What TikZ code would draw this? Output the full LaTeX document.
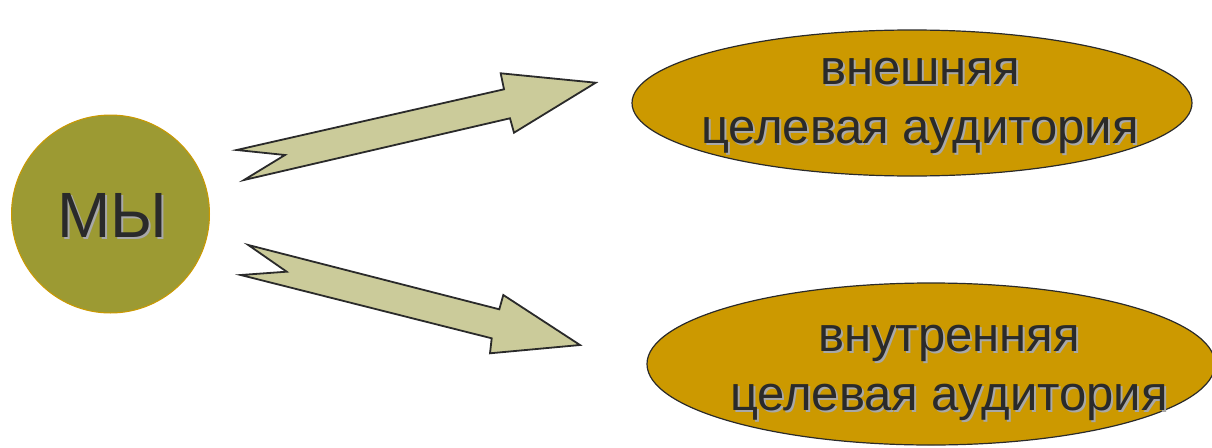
\documentclass[tikz,border=0pt]{standalone}
\usepackage{fontspec}
\setmainfont{Liberation Sans}
\usetikzlibrary{shapes.geometric}
\definecolor{cOlive}{HTML}{9C9A33}
\definecolor{cGold}{HTML}{CC9900}
\definecolor{cKhaki}{HTML}{CBCB9A}
\definecolor{cInk}{HTML}{2A2A2A}
\definecolor{cShadow}{HTML}{A8A8A8}
\tikzset{
  bigblob/.style={ellipse, fill=cGold, draw=cInk, line width=1.2pt, inner sep=0pt},
  usblob/.style={circle, fill=cOlive, draw=cGold, line width=1pt, inner sep=0pt, minimum size=198pt},
  arrowshape/.style={fill=cKhaki, draw=cInk, line width=1.8pt, line join=miter},
  lbl/.style={text=cInk, align=center, inner sep=0pt},
  lblshadow/.style={text=cShadow, align=center, inner sep=0pt},
  bigfont/.style={font=\fontsize{49}{59}\selectfont},
  usfont/.style={font=\fontsize{64}{64}\selectfont}
}
\begin{document}
\begin{tikzpicture}[x=1pt,y=-1pt]
\useasboundingbox (0,0) rectangle (1212,447);
% nodes
\node[usblob] (we) at (110.5,214) {};
\node[bigblob, minimum width=560pt, minimum height=146pt] (ext) at (912,103) {};
\node[bigblob, minimum width=568pt, minimum height=162pt] (int) at (931,364) {};
% arrows
\draw[arrowshape] (236.7,150) -- (285,155) -- (244,180) -- (510,118.3) -- (514,132.7)
  -- (595.7,82.7) -- (500.7,73.3) -- (504,89.3) -- cycle;
\draw[arrowshape] (248.3,245) -- (286.7,271.7) -- (240.7,275) -- (491.7,338.3) -- (490,353.3)
  -- (580,345) -- (503.3,295) -- (499.3,309.3) -- cycle;
% labels with shadows
\node[lblshadow, usfont] at (114,217) {МЫ};
\node[lbl, usfont] (welbl) at (112,215) {МЫ};
\node[lblshadow, bigfont] at (922,108) {внешняя\\целевая аудитория};
\node[lbl, bigfont] (extlbl) at (920,106) {внешняя\\целевая аудитория};
\node[lblshadow, bigfont] at (951,375) {внутренняя\\целевая аудитория};
\node[lbl, bigfont] (intlbl) at (949,373) {внутренняя\\целевая аудитория};
\end{tikzpicture}
\end{document}
